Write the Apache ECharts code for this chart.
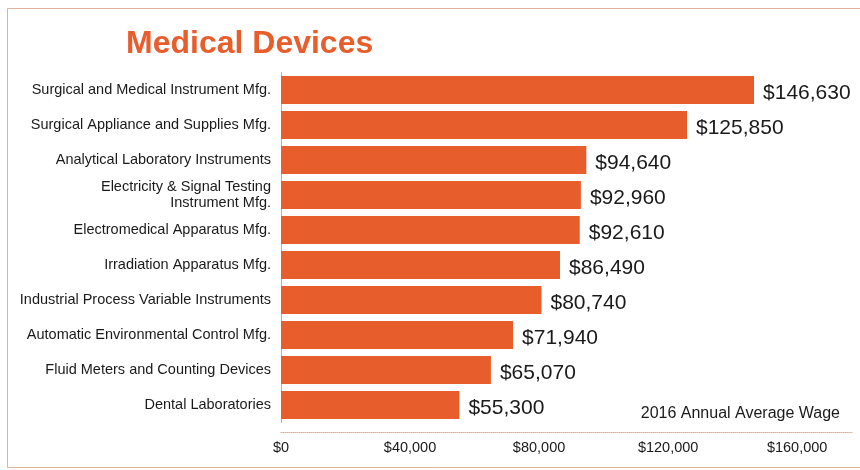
<!DOCTYPE html>
<html>
<head>
<meta charset="utf-8">
<script src="https://cdn.jsdelivr.net/npm/echarts@6/dist/echarts.min.js"></script>
<style>
  html, body { margin: 0; padding: 0; background: #fff; }
  #chart { width: 860px; height: 470px; }
</style>
</head>
<body>
<div id="chart"></div>
<script>
var categories = [
  'Surgical and Medical Instrument Mfg.',
  'Surgical Appliance and Supplies Mfg.',
  'Analytical Laboratory Instruments',
  'Electricity & Signal Testing\nInstrument Mfg.',
  'Electromedical Apparatus Mfg.',
  'Irradiation Apparatus Mfg.',
  'Industrial Process Variable Instruments',
  'Automatic Environmental Control Mfg.',
  'Fluid Meters and Counting Devices',
  'Dental Laboratories'
];
var wages = [146630, 125850, 94640, 92960, 92610, 86490, 80740, 71940, 65070, 55300];
var tickValues = [0, 40000, 80000, 120000, 160000];

var barColor = '#e85d2c';
var font = 'Liberation Sans, Arial, sans-serif';

function money(v) {
  return '$' + v.toString().replace(/\B(?=(\d{3})+(?!\d))/g, ',');
}

var chartDom = document.getElementById('chart');
var myChart = echarts.init(chartDom);
var option;

option = {
  backgroundColor: '#fff',
  animation: false,
  title: {
    text: 'Medical Devices',
    left: 121,
    top: 23,
    textStyle: {
      color: barColor,
      fontFamily: font,
      fontWeight: 'bold',
      fontSize: 32
    }
  },
  grid: {
    left: 281,
    right: 8,
    top: 72.5,
    bottom: 47.5
  },
  xAxis: {
    type: 'value',
    min: 0,
    max: 177000,
    interval: 40000,
    offset: 10,
    splitLine: { show: false },
    axisTick: { show: false },
    axisLine: { show: true, lineStyle: { color: '#dcae98', width: 1, type: 'dotted' } },
    axisLabel: {
      color: '#1a1a1a',
      fontFamily: font,
      fontSize: 14.5,
      margin: 8,
      formatter: function (v) {
        return tickValues.indexOf(v) >= 0 ? money(v) : '';
      }
    }
  },
  yAxis: {
    type: 'category',
    inverse: true,
    data: categories,
    axisTick: { show: false },
    axisLine: { show: true, lineStyle: { color: '#c7a797', width: 1 } },
    axisLabel: {
      color: '#1a1a1a',
      fontFamily: font,
      fontSize: 14.5,
      lineHeight: 16,
      margin: 10,
      align: 'right'
    }
  },
  series: [
    {
      type: 'bar',
      data: wages,
      barWidth: 28,
      itemStyle: { color: barColor },
      label: {
        show: true,
        position: 'right',
        distance: 9,
        offset: [0, 3],
        color: '#1a1a1a',
        fontFamily: font,
        fontSize: 21,
        formatter: function (p) { return money(p.value); }
      }
    }
  ],
  graphic: [
    {
      type: 'rect',
      shape: { x: 7.5, y: 8.5, width: 900, height: 459 },
      style: { fill: 'none', stroke: '#e3b09c', lineWidth: 1 },
      silent: true
    },
    {
      type: 'text',
      right: 20,
      top: 406,
      style: {
        text: '2016 Annual Average Wage',
        fill: '#1a1a1a',
        fontFamily: font,
        fontSize: 16
      }
    }
  ]
};

option && myChart.setOption(option);
</script>
</body>
</html>
